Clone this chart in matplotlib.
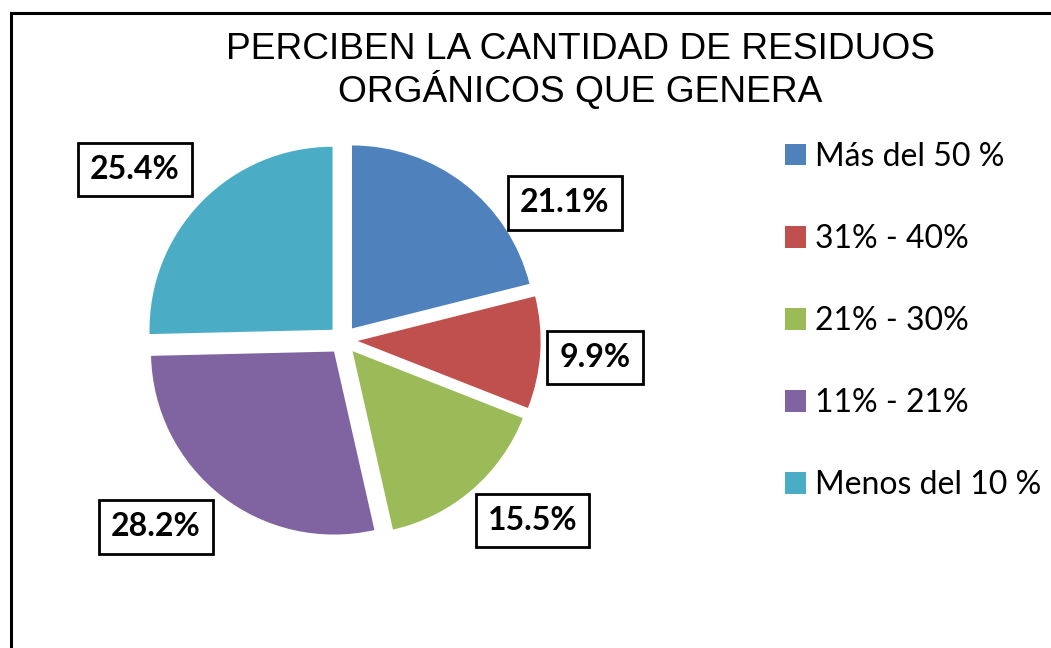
import matplotlib.pyplot as plt
import numpy as np
from matplotlib.patches import Rectangle

title = "PERCIBEN LA CANTIDAD DE RESIDUOS\nORGÁNICOS QUE GENERA"
categorias = ["Más del 50 %", "31% - 40%", "21% - 30%", "11% - 21%", "Menos del 10 %"]
porcentajes = [21.1, 9.9, 15.5, 28.2, 25.4]
colores = ["#4F81BD", "#C0504D", "#9BBB59", "#8064A2", "#4BACC6"]

# label spots (radius, angle in degrees) like Excel's best-fit placement
label_pos = [(1.425, 31.7), (1.38, -3.9), (1.43, -43.6), (1.445, -135.0), (1.47, 140.7)]

fig = plt.figure(figsize=(10.51, 6.48), dpi=100)
fig.patch.set_facecolor("white")

# outer chart frame (only top and left edges visible)
fig.patches.append(Rectangle((11 / 1051, -0.2), 1.5, 0.2 + 1 - 13 / 648,
                             transform=fig.transFigure, fill=False,
                             edgecolor="black", linewidth=2.2, clip_on=False))

S = 585.6
ax = fig.add_axes([(343 - S / 2) / 1051, (308 - S / 2) / 648, S / 1051, S / 648])

wedges, _ = ax.pie(porcentajes, colors=colores, startangle=90, counterclock=False,
                   explode=[0.08] * 5, radius=1.0)
ax.set_xlim(-1.6, 1.6)
ax.set_ylim(-1.6, 1.6)
ax.set_aspect("equal")
ax.axis("off")

for v, (r, a) in zip(porcentajes, label_pos):
    x = r * np.cos(np.radians(a))
    y = r * np.sin(np.radians(a))
    ax.text(x, y, f"{v:.1f}%", ha="center", va="center", fontsize=23,
            fontweight="bold", family="Lato", clip_on=False,
            bbox=dict(boxstyle="square,pad=0.38", facecolor="white",
                      edgecolor="black", linewidth=2))

fig.text(580 / 1051, 1 - 71 / 648, title, ha="center", va="center",
         fontsize=26.7, family="Liberation Sans", linespacing=1.15)

leg = fig.legend(wedges, categorias, loc="upper left",
                 bbox_to_anchor=(785 / 1051, 1 - 142 / 648), frameon=False,
                 prop={"family": "Lato", "size": 23}, labelspacing=1.63,
                 handlelength=0.65, handleheight=0.65, handletextpad=0.3,
                 borderpad=0, borderaxespad=0)

fig.savefig("out.png", dpi=100)
